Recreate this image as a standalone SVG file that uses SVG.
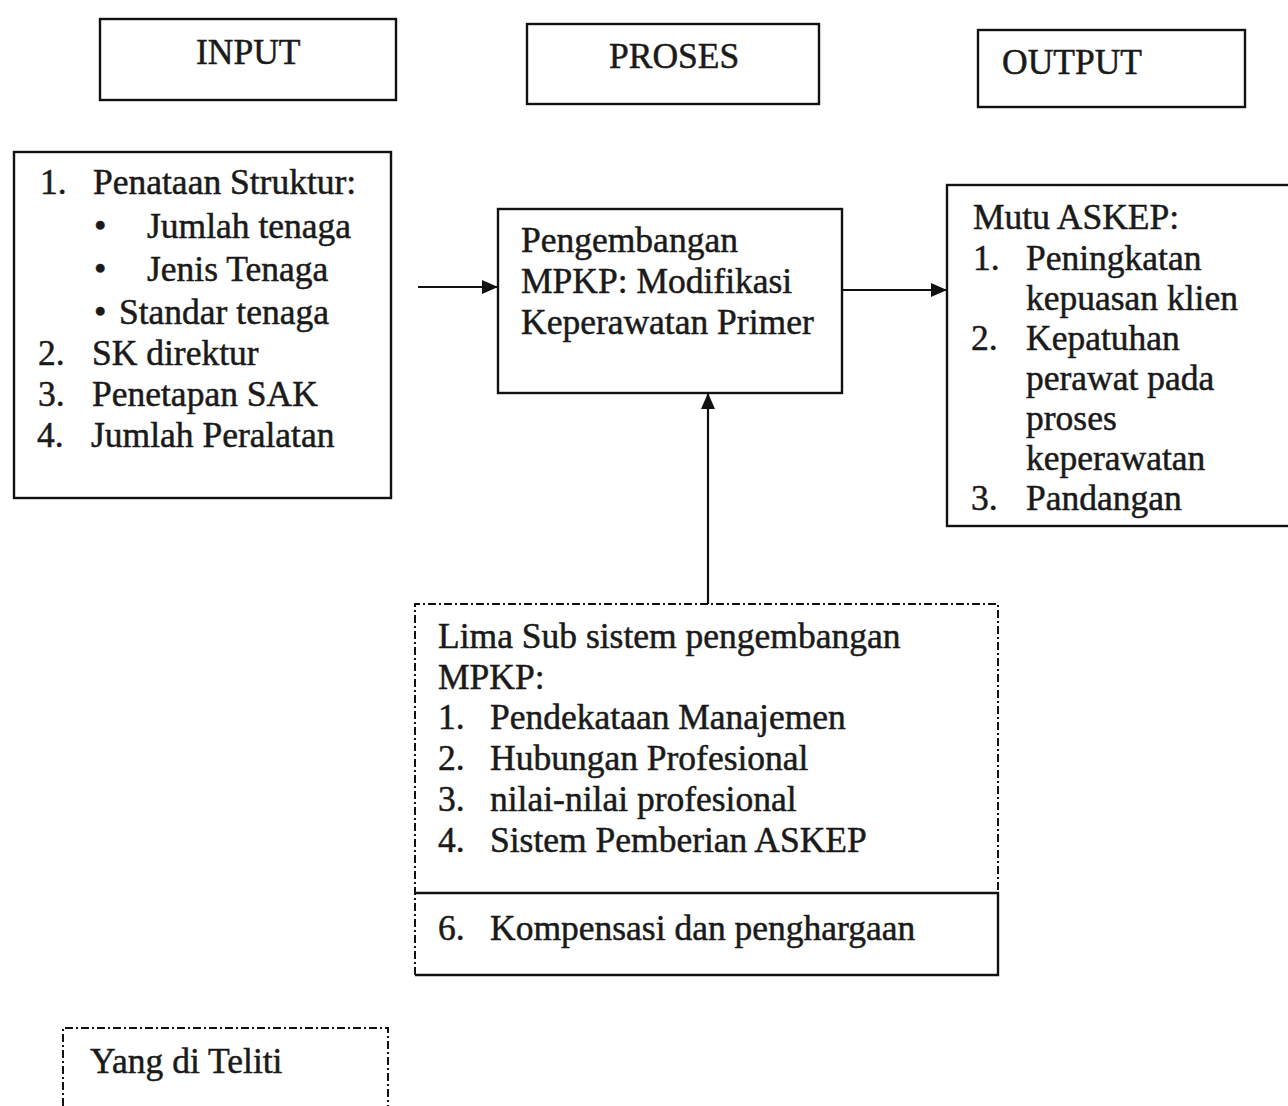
<svg xmlns="http://www.w3.org/2000/svg" width="1288" height="1106" viewBox="0 0 1288 1106">
<style>
.box{fill:#fff;stroke:#111;stroke-width:2.4}
.dash{fill:none;stroke:#111;stroke-width:2;stroke-dasharray:8 3 2 3}
.solid{fill:none;stroke:#111;stroke-width:2.4}
.t{font-family:"Liberation Serif","Times New Roman",serif;font-size:35.5px;fill:#1a1a1a;stroke:#1a1a1a;stroke-width:0.5}
.conn{stroke:#111;stroke-width:2.2;fill:none}
</style>
<defs>
<marker id="ah" markerWidth="16" markerHeight="14" refX="15" refY="7" orient="auto" markerUnits="userSpaceOnUse">
<path d="M0,0 L16,7 L0,14 Z" fill="#111"/>
</marker>
</defs>
<rect width="1288" height="1106" fill="#fff"/>

<g id="hdr-input">
<rect class="box" x="100" y="19" width="296" height="81"/>
<text class="t" x="196" y="64">INPUT</text>
</g>
<g id="hdr-proses">
<rect class="box" x="527" y="24" width="292" height="80"/>
<text class="t" x="609" y="68">PROSES</text>
</g>
<g id="hdr-output">
<rect class="box" x="978" y="30" width="267" height="77"/>
<text class="t" x="1002" y="74">OUTPUT</text>
</g>

<g id="input">
<rect class="box" x="14" y="152" width="377" height="346"/>
<text class="t" x="40" y="194">1.</text>
<text class="t" x="93" y="194">Penataan Struktur:</text>
<text class="t" x="94" y="238">•</text>
<text class="t" x="147" y="238">Jumlah tenaga</text>
<text class="t" x="94" y="281">•</text>
<text class="t" x="147" y="281">Jenis Tenaga</text>
<text class="t" x="94" y="324">•</text>
<text class="t" x="119" y="324">Standar tenaga</text>
<text class="t" x="38" y="365">2.</text>
<text class="t" x="92" y="365">SK direktur</text>
<text class="t" x="38" y="406">3.</text>
<text class="t" x="92" y="406">Penetapan SAK</text>
<text class="t" x="37" y="447">4.</text>
<text class="t" x="91" y="447">Jumlah Peralatan</text>
</g>

<g id="proses">
<rect class="box" x="498" y="209" width="344" height="184"/>
<text class="t" x="521" y="252">Pengembangan</text>
<text class="t" x="521" y="293">MPKP: Modifikasi</text>
<text class="t" x="521" y="334">Keperawatan Primer</text>
</g>

<g id="output">
<rect class="box" x="947" y="185" width="360" height="341"/>
<text class="t" x="973" y="229">Mutu ASKEP:</text>
<text class="t" x="973" y="270">1.</text>
<text class="t" x="1026" y="270">Peningkatan</text>
<text class="t" x="1026" y="310">kepuasan klien</text>
<text class="t" x="971" y="350">2.</text>
<text class="t" x="1026" y="350">Kepatuhan</text>
<text class="t" x="1026" y="390">perawat pada</text>
<text class="t" x="1026" y="430">proses</text>
<text class="t" x="1026" y="470">keperawatan</text>
<text class="t" x="971" y="510">3.</text>
<text class="t" x="1026" y="510">Pandangan</text>
</g>

<g id="subsistem">
<path class="dash" d="M415,975 L415,604 L998,604 L998,893"/>
<path class="solid" d="M415,893 L998,893 L998,975 L415,975"/>
<text class="t" x="438" y="648">Lima Sub sistem pengembangan</text>
<text class="t" x="438" y="689">MPKP:</text>
<text class="t" x="438" y="729">1.</text>
<text class="t" x="490" y="729">Pendekataan Manajemen</text>
<text class="t" x="438" y="770">2.</text>
<text class="t" x="490" y="770">Hubungan Profesional</text>
<text class="t" x="438" y="811">3.</text>
<text class="t" x="490" y="811">nilai-nilai profesional</text>
<text class="t" x="438" y="852">4.</text>
<text class="t" x="490" y="852">Sistem Pemberian ASKEP</text>
<text class="t" x="438" y="940">6.</text>
<text class="t" x="490" y="940">Kompensasi dan penghargaan</text>
</g>

<g id="legend">
<path class="dash" d="M63,1106 L63,1028 L388,1028 L388,1106"/>
<text class="t" x="90" y="1073">Yang di Teliti</text>
</g>

<g id="connectors">
<line class="conn" x1="418" y1="287" x2="497" y2="287" marker-end="url(#ah)"/>
<line class="conn" x1="843" y1="290" x2="946" y2="290" marker-end="url(#ah)"/>
<line class="conn" x1="708" y1="604" x2="708" y2="394" marker-end="url(#ah)"/>
</g>
</svg>
